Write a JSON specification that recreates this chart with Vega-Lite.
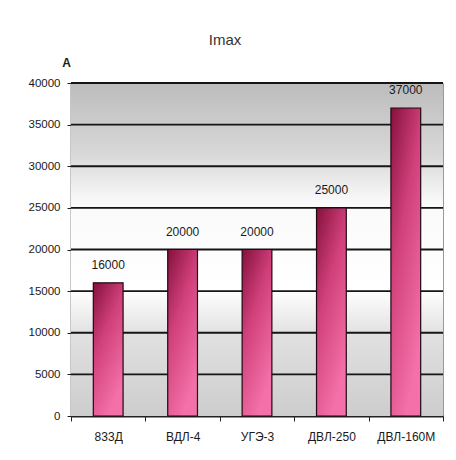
{
  "$schema": "https://vega.github.io/schema/vega-lite/v6.json",
  "width": 372,
  "height": 333,
  "autosize": "none",
  "padding": {"left": 71, "top": 83, "right": 13, "bottom": 44},
  "background": "white",
  "title": {
    "text": "Imax",
    "font": "Liberation Sans",
    "fontSize": 15,
    "fontWeight": "normal",
    "color": "#333333",
    "anchor": "middle",
    "dx": -32,
    "offset": 8
  },
  "datasets": {
    "bars": [
      {"device": "833Д", "imax": 16000},
      {"device": "ВДЛ-4", "imax": 20000},
      {"device": "УГЭ-3", "imax": 20000},
      {"device": "ДВЛ-250", "imax": 25000},
      {"device": "ДВЛ-160М", "imax": 37000}
    ],
    "grid": [
      {"level": 5000}, {"level": 10000}, {"level": 15000}, {"level": 20000},
      {"level": 25000}, {"level": 30000}, {"level": 35000}, {"level": 40000}
    ],
    "panel": [{"lo": 0, "hi": 40000}]
  },
  "config": {
    "view": {"stroke": "#9a9a9a", "strokeWidth": 1},
    "font": "Liberation Sans",
    "axis": {
      "labelFont": "Liberation Sans",
      "labelColor": "#1a1a1a",
      "domainColor": "#222222",
      "tickColor": "#222222",
      "grid": false
    }
  },
  "layer": [
    {
      "data": {"name": "panel"},
      "mark": {
        "type": "rect",
        "fill": {
          "gradient": "linear",
          "x1": 0, "y1": 0, "x2": 0, "y2": 1,
          "stops": [
            {"offset": 0, "color": "#bcbcbc"},
            {"offset": 0.22, "color": "#d9d9d9"},
            {"offset": 0.36, "color": "#fafafa"},
            {"offset": 0.62, "color": "#ffffff"},
            {"offset": 0.76, "color": "#e0e0e0"},
            {"offset": 1, "color": "#cdcdcd"}
          ]
        }
      },
      "encoding": {
        "y": {"field": "lo", "type": "quantitative"},
        "y2": {"field": "hi"}
      }
    },
    {
      "data": {"name": "grid"},
      "mark": {"type": "rule", "color": "#151515", "strokeWidth": 1.8},
      "encoding": {
        "y": {"field": "level", "type": "quantitative"}
      }
    },
    {
      "data": {"name": "bars"},
      "mark": {
        "type": "bar",
        "width": {"band": 0.4},
        "stroke": "#220810",
        "strokeWidth": 1.2,
        "fill": {
          "gradient": "linear",
          "x1": 0, "y1": 0, "x2": 0.5, "y2": 1,
          "stops": [
            {"offset": 0, "color": "#85103d"},
            {"offset": 0.45, "color": "#d0407a"},
            {"offset": 1, "color": "#f470a8"}
          ]
        }
      },
      "encoding": {
        "x": {
          "field": "device",
          "type": "nominal",
          "sort": null,
          "scale": {"paddingInner": 0, "paddingOuter": 0},
          "axis": {
            "title": null,
            "labelAngle": 0,
            "labelFontSize": 12,
            "labelPadding": 10,
            "tickBand": "extent",
            "tickSize": 5,
            "domainWidth": 1.8
          }
        },
        "y": {
          "field": "imax",
          "type": "quantitative",
          "scale": {"domain": [0, 40000], "nice": false},
          "axis": {
            "values": [0, 5000, 10000, 15000, 20000, 25000, 30000, 35000, 40000],
            "format": "d",
            "labelFontSize": 11.5,
            "labelPadding": 7,
            "tickSize": 4,
            "domainWidth": 1.5,
            "title": "A",
            "titleAngle": 0,
            "titleFontSize": 12,
            "titleFontWeight": "bold",
            "titleColor": "#1a1a1a",
            "titleAlign": "center",
            "titleBaseline": "middle",
            "titleX": -5,
            "titleY": -21
          }
        }
      }
    },
    {
      "data": {"name": "bars"},
      "mark": {"type": "text", "baseline": "bottom", "dy": -11, "fontSize": 12, "color": "#1a1a1a"},
      "encoding": {
        "x": {"field": "device", "type": "nominal", "sort": null},
        "y": {"field": "imax", "type": "quantitative"},
        "text": {"field": "imax", "type": "quantitative", "format": "d"}
      }
    }
  ]
}
